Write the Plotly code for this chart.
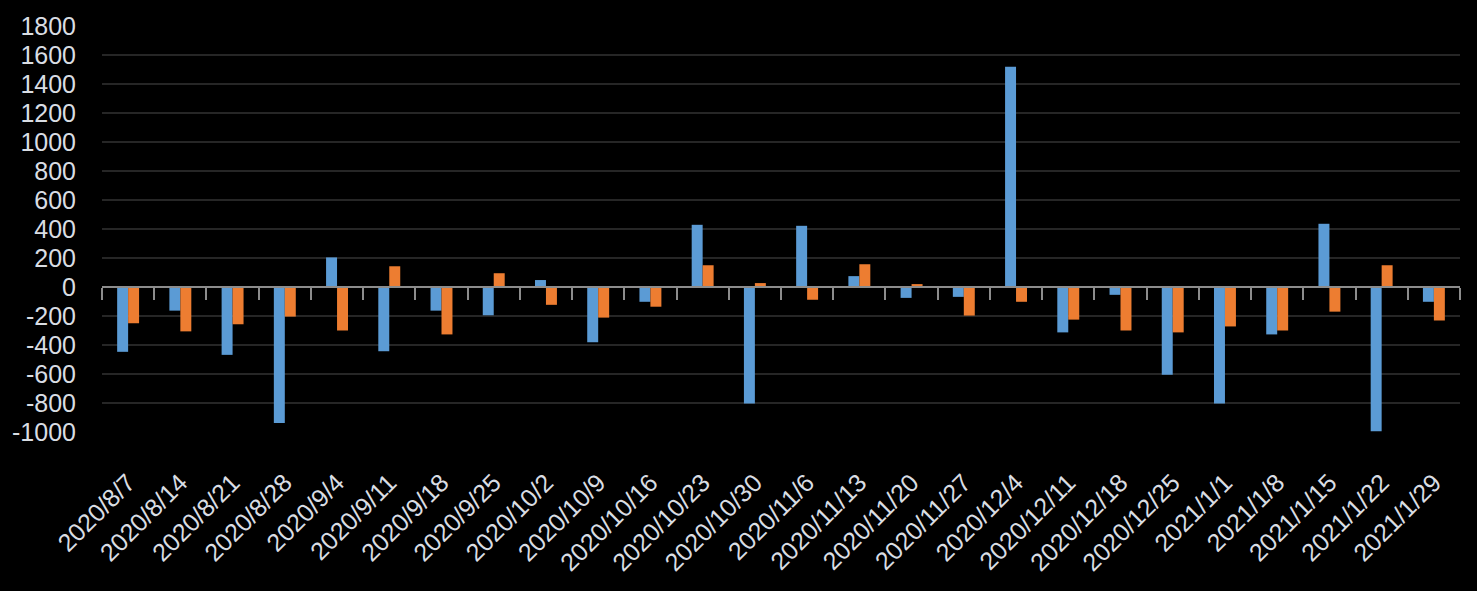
import plotly.graph_objects as go

dates = ["2020/8/7", "2020/8/14", "2020/8/21", "2020/8/28", "2020/9/4", "2020/9/11",
         "2020/9/18", "2020/9/25", "2020/10/2", "2020/10/9", "2020/10/16", "2020/10/23",
         "2020/10/30", "2020/11/6", "2020/11/13", "2020/11/20", "2020/11/27", "2020/12/4",
         "2020/12/11", "2020/12/18", "2020/12/25", "2021/1/1", "2021/1/8", "2021/1/15",
         "2021/1/22", "2021/1/29"]

series_blue = [-447, -163, -468, -938, 204, -443, -163, -195, 48, -381, -102, 429,
               -804, 422, 75, -75, -68, 1519, -313, -54, -606, -804, -327, 436, -994, -102]
series_orange = [-250, -306, -257, -204, -300, 143, -327, 95, -123, -211, -136, 150,
                 27, -88, 157, 20, -197, -102, -225, -300, -313, -272, -300, -170, 150, -231]

y_ticks = [-1000, -800, -600, -400, -200, 0, 200, 400, 600, 800, 1000, 1200, 1400, 1600, 1800]
y_range = [-1000, 1800]

FONT = "Liberation Sans"
TXT = "#d9dde3"

fig = go.Figure()
fig.add_trace(go.Bar(x=dates, y=series_blue, name="Series1",
                     marker=dict(color="#5b9bd5", line=dict(width=0))))
fig.add_trace(go.Bar(x=dates, y=series_orange, name="Series2",
                     marker=dict(color="#ed7d31", line=dict(width=0))))
# invisible trace to carry the category axis drawn through zero
fig.add_trace(go.Scatter(x=dates, y=[0] * len(dates), mode="none", xaxis="x2",
                         showlegend=False, hoverinfo="skip"))

zero_pos = (0 - y_range[0]) / (y_range[1] - y_range[0])

fig.update_layout(
    width=1477, height=591,
    paper_bgcolor="#000000", plot_bgcolor="#000000",
    margin=dict(l=99, r=17, t=21, b=159),
    barmode="group", bargap=0.58, bargroupgap=0,
    showlegend=False,
    font=dict(family=FONT, size=25, color=TXT),
    xaxis=dict(type="category", range=[-0.5, len(dates) - 0.5],
               showgrid=False, showline=False, zeroline=False,
               ticks="outside", ticklen=25, tickcolor="rgba(0,0,0,0)",
               tickangle=-45, tickfont=dict(family=FONT, size=25, color=TXT)),
    xaxis2=dict(type="category", overlaying="x", anchor="free", position=zero_pos,
                range=[-0.5, len(dates) - 0.5],
                showgrid=False, zeroline=False, showline=True,
                linecolor="#8c8c8c", linewidth=1.5,
                ticks="outside", ticklen=12, tickwidth=1.5, tickcolor="#8c8c8c",
                tickson="boundaries", showticklabels=False),
    yaxis=dict(range=y_range, tickvals=y_ticks, ticktext=[str(v) for v in y_ticks],
               showgrid=True, gridcolor="#262626", gridwidth=1.5,
               zeroline=False, showline=False,
               ticks="outside", ticklen=20, tickcolor="rgba(0,0,0,0)",
               tickfont=dict(family=FONT, size=25, color=TXT)),
)

fig.write_html("out.html",
               config={"displayModeBar": False},
               post_script="document.body.style.margin='0';"
                           "document.body.style.background='#000000';")
